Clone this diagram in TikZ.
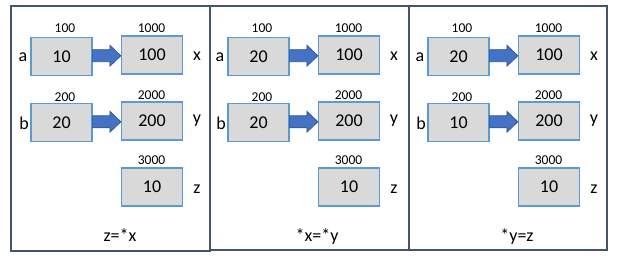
\documentclass[tikz,border=0pt]{standalone}
\usepackage{fontspec}
\setmainfont{Carlito}
\usetikzlibrary{calc}
\definecolor{boxfill}{HTML}{D9D9D9}
\definecolor{boxline}{HTML}{5B9BD5}
\definecolor{arrfill}{HTML}{4472C4}
\definecolor{arrline}{HTML}{2F528F}
\definecolor{frameline}{HTML}{44546A}
\newcommand{\myblockarrow}[2]{%
  \path[blockarr] let \p1=(#1.east), \p2=(#2.west), \p3=($(#1.east)!0.5!(#2.west)$) in
    (\x1,{\y3+6pt}) -- ({\x2-11pt},{\y3+6pt}) -- ({\x2-11pt},{\y3+10.5pt}) -- (\x2,\y3)
    -- ({\x2-11pt},{\y3-10.5pt}) -- ({\x2-11pt},{\y3-6pt}) -- (\x1,{\y3-6pt}) -- cycle;}
\newcommand{\mypanel}[5]{%
  \begin{scope}[xshift=#2]
    \node[memcell] (#1a) at (61.5,56.5) {#3};
    \node[memcell] (#1x) at (152,55) {100};
    \node[memcell] (#1b) at (61.5,122.5) {#4};
    \node[memcell] (#1y) at (152,121) {200};
    \node[memcell] (#1z) at (152,187) {10};
    \node[addr] (#1aa) at (65,28) {100};
    \node[addr] (#1xa) at (151.5,28) {1000};
    \node[addr] (#1ba) at (65,97) {200};
    \node[addr] (#1ya) at (151.5,95) {2000};
    \node[addr] (#1za) at (151.5,160) {3000};
    \node[varname] (#1an) at (23,62) {a};
    \node[varname] (#1bn) at (24,129) {b};
    \node[varname] (#1xn) at (197,60) {x};
    \node[varname] (#1yn) at (197,123) {y};
    \node[varname] (#1zn) at (197,193) {z};
    \node[captext] (#1c) at (120,241) {#5};
  \end{scope}
  \myblockarrow{#1a}{#1x}
  \myblockarrow{#1b}{#1y}}
\begin{document}
\begin{tikzpicture}[x=1pt,y=-1pt,
  memcell/.style={draw=boxline, fill=boxfill, line width=1.1pt, minimum width=61pt,
    minimum height=38pt, inner sep=0pt, font=\fontsize{18}{20}\selectfont},
  addr/.style={font=\fontsize{13.5}{15}\selectfont, inner sep=0pt},
  varname/.style={font=\fontsize{18}{20}\selectfont, inner sep=0pt, anchor=base},
  captext/.style={font=\fontsize{18}{20}\selectfont, inner sep=0pt, anchor=base},
  blockarr/.style={fill=arrfill, draw=arrline, line width=0.6pt},
  panelframe/.style={draw=frameline, line width=1.4pt}]
  \useasboundingbox (0,0) rectangle (618,262);
  \fill[white] (0,0) rectangle (618,262);
  \draw[panelframe] (11,6) rectangle (210,251);
  \draw[panelframe] (210,6) rectangle (409,250);
  \draw[panelframe] (409,6) rectangle (607,250);
  \mypanel{p}{0}{10}{20}{z=*x}
  \mypanel{q}{197}{20}{20}{*x=*y}
  \mypanel{r}{397}{20}{10}{*y=z}
\end{tikzpicture}
\end{document}
